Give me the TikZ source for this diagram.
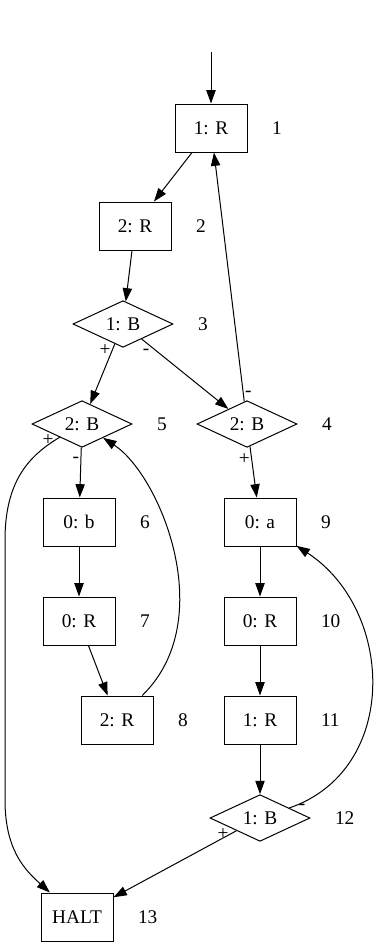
\documentclass[tikz,border=0pt]{standalone}
\usepackage{fontspec}
\setmainfont{Liberation Serif}
\usetikzlibrary{arrows.meta, positioning, shapes.geometric}

\begin{document}
\begin{tikzpicture}[
            x=0.75pt, y=-0.75pt,
            font=\fontsize{14.5}{16}\selectfont,
            line width=0.75pt,
            >={Triangle[length=10pt,width=7pt]},
            node distance = 18pt
        ]

        \useasboundingbox (0,0) rectangle (380,947);

        \tikzstyle{op}=[
            draw,
            shape=rectangle,
            minimum width=54pt,
            minimum height=36pt
        ]
        \tikzstyle{test}=[
            draw,
            shape=diamond,
            aspect=2,
            minimum width=75pt,
            minimum height=35pt,
            inner sep=0pt
        ]
        \tikzstyle{num}=[inner sep=0pt]
        \tikzstyle{tail}=[inner sep=1pt]

        \coordinate (start) at (211,52);

        \node[op] (n1) at (211,128) {1: R};
        \node[op] (n2) at (135,226) {2: R};
        \node[test] (n3) at (123,324) {1: B};
        \node[test] (n4) at (247,424) {2: B};
        \node[test] (n5) at (82,424) {2: B};
        \node[op] (n6) at (79,522) {0: b};
        \node[op] (n7) at (79,621) {0: R};
        \node[op] (n8) at (117,720) {2: R};
        \node[op] (n9) at (260,522) {0: a};
        \node[op] (n10) at (260,621) {0: R};
        \node[op] (n11) at (260,720) {1: R};
        \node[test] (n12) at (260,818) {1: B};
        \node[op] (n13) at (77,917) {HALT};

        % line numbers
        \node[num, right=of n1] (l1) {1};
        \node[num, right=of n2] (l2) {2};
        \node[num, right=of n3] (l3) {3};
        \node[num, right=of n4] (l4) {4};
        \node[num, right=of n5] (l5) {5};
        \node[num, right=of n6] (l6) {6};
        \node[num, right=of n7] (l7) {7};
        \node[num, right=of n8] (l8) {8};
        \node[num, right=of n9] (l9) {9};
        \node[num, right=of n10] (l10) {10};
        \node[num, right=of n11] (l11) {11};
        \node[num, right=of n12] (l12) {12};
        \node[num, right=of n13] (l13) {13};

        \path[->] (start) edge (n1);
        \path[->] (n1) edge (n2);
        \path[->] (n2) edge (n3);
        \path[->] (n3) edge node[tail, pos=0.1, left] {+} (n5);
        \path[->] (n3) edge node[tail, pos=0.05, below=4pt] {-} (n4);
        \path[->] (n4) edge node[tail, pos=0.03, right] {-} (n1);
        \path[->] (n4) edge node[tail, pos=0.25, left] {+} (n9);
        \path[->] (n5) edge node[tail, pos=0.25, left] {-} (n6);
        \path[->] (n6) edge (n7);
        \path[->] (n7) edge (n8);
        \path[->] (n9) edge (n10);
        \path[->] (n10) edge (n11);
        \path[->] (n11) edge (n12);
        \path[->] (n12) edge node[tail, pos=0.05, left] {+} (n13);

        \draw[->] (n8) .. controls (220,620) and (160,475) .. (n5);
        \draw[->] (n12) .. controls (400,770) and (395,610) .. (n9)
            node[tail, pos=0.04, below] {-};
        \draw[->] (n5) .. controls (30,455) and (5,480) .. (5,540)
            node[tail, pos=0.05, left] {+}
            -- (5,800) .. controls (5,850) and (25,870) .. (n13);

    \end{tikzpicture}
\end{document}
